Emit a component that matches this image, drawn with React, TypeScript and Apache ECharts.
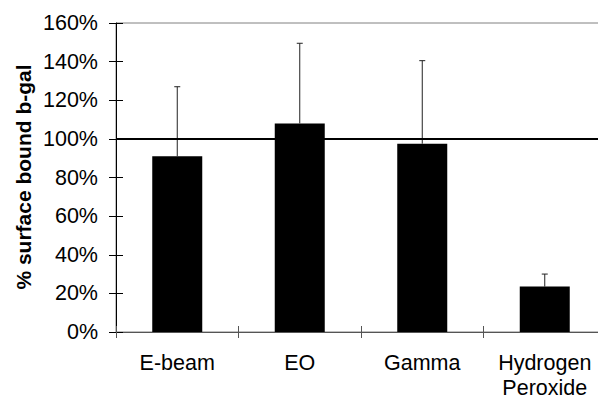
import React, { useEffect, useRef } from "react";
import * as echarts from "echarts";

const categories = ["E-beam", "EO", "Gamma", "Hydrogen\nPeroxide"];
const means = [91, 108, 97.5, 23.5];
const upperErrors = [127, 149.5, 140.5, 30];
const referenceLevel = 100;
const yTitle = "% surface bound b-gal";

const FONT = "'Liberation Sans', Arial, sans-serif";

export default function App() {
  const ref = useRef<HTMLDivElement>(null);
  useEffect(() => {
    if (!ref.current) return;
    const chart = echarts.init(ref.current, null, { renderer: "svg" });
    const errData = upperErrors.map((u, i) => [i, means[i], u]);
    chart.setOption({
      animation: false,
      backgroundColor: "#ffffff",
      grid: {
        left: 116,
        top: 23,
        width: 490,
        height: 309,
        show: true,
        borderColor: "#808080",
        borderWidth: 1,
        containLabel: false,
        outerBoundsMode: "none",
      },
      xAxis: [
        {
          type: "category",
          data: categories,
          position: "bottom",
          boundaryGap: true,
          axisLine: { show: true, lineStyle: { color: "#555", width: 1 } },
          axisTick: { show: true, inside: false, length: 6, lineStyle: { color: "#555" } },
          axisLabel: {
            color: "#000",
            fontFamily: FONT,
            fontSize: 21.5,
            lineHeight: 25,
            margin: 18,
            interval: 0,
          },
          splitLine: { show: false },
        },
        {
          type: "category",
          data: categories,
          position: "bottom",
          boundaryGap: true,
          axisLine: { show: false },
          axisTick: { show: true, inside: true, length: 6, lineStyle: { color: "#555" } },
          axisLabel: { show: false },
          splitLine: { show: false },
        },
      ],
      yAxis: [
        {
          type: "value",
          min: 0,
          max: 160,
          interval: 20,
          position: "left",
          axisLine: { show: true, lineStyle: { color: "#000", width: 1 } },
          axisTick: { show: true, inside: false, length: 7, lineStyle: { color: "#000" } },
          axisLabel: {
            formatter: "{value}%",
            color: "#000",
            fontFamily: FONT,
            fontSize: 21.5,
            margin: 18,
          },
          splitLine: { show: false },
        },
        {
          type: "value",
          min: 0,
          max: 160,
          interval: 20,
          position: "left",
          axisLine: { show: false },
          axisTick: { show: true, inside: true, length: 7, lineStyle: { color: "#000" } },
          axisLabel: { show: false },
          splitLine: { show: false },
        },
      ],
      graphic: [
        {
          type: "text",
          x: 23,
          y: 177,
          rotation: Math.PI / 2,
          style: {
            text: yTitle,
            fontFamily: FONT,
            fontSize: 21,
            fontWeight: "bold",
            fill: "#000",
            align: "center",
            verticalAlign: "middle",
          },
        },
      ],
      series: [
        {
          type: "bar",
          data: means,
          barWidth: 50,
          itemStyle: { color: "#000" },
          markLine: {
            silent: true,
            symbol: ["none", "none"],
            label: { show: false },
            lineStyle: { color: "#000", width: 2, type: "solid" },
            data: [{ yAxis: referenceLevel }],
          },
          z: 2,
        },
        {
          type: "custom",
          data: errData,
          z: 3,
          renderItem: (params: any, api: any) => {
            const idx = api.value(0);
            const lo = api.coord([idx, api.value(1)]);
            const hi = api.coord([idx, api.value(2)]);
            const cap = 3;
            const style = { stroke: "#222", lineWidth: 1 };
            return {
              type: "group",
              children: [
                { type: "line", shape: { x1: lo[0], y1: lo[1], x2: hi[0], y2: hi[1] }, style },
                { type: "line", shape: { x1: hi[0] - cap, y1: hi[1], x2: hi[0] + cap, y2: hi[1] }, style },
              ],
            };
          },
        },
      ],
    });
    return () => chart.dispose();
  }, []);
  return (
    <div
      ref={ref}
      style={{ position: "fixed", left: 0, top: 0, width: 598, height: 398, overflow: "hidden" }}
    />
  );
}
